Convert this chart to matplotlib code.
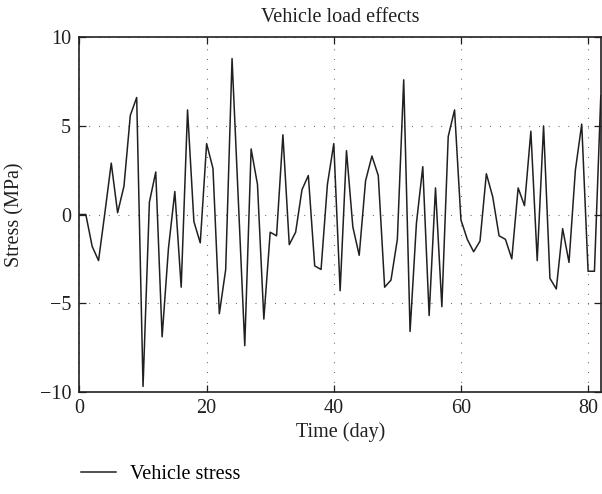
import matplotlib

matplotlib.use("Agg")
import matplotlib.pyplot as plt

# stress readings (MPa) per day
days = list(range(0, 83))
stress = [
    0.0, 0.0, -1.8, -2.6, 0.1, 2.9, 0.1, 1.6, 5.6, 6.6,
    -9.7, 0.7, 2.4, -6.9, -1.9, 1.3, -4.1, 5.9, -0.4, -1.6,
    4.0, 2.6, -5.6, -3.1, 8.8, 0.7, -7.4, 3.7, 1.7, -5.9,
    -1.0, -1.2, 4.5, -1.7, -1.0, 1.4, 2.2, -2.9, -3.1, 1.7,
    4.0, -4.3, 3.6, -0.7, -2.3, 1.9, 3.3, 2.2, -4.1, -3.7,
    -1.4, 7.6, -6.6, -0.5, 2.7, -5.7, 1.5, -5.2, 4.4, 5.9,
    -0.3, -1.4, -2.1, -1.5, 2.3, 1.0, -1.2, -1.4, -2.5, 1.5,
    0.5, 4.7, -2.6, 5.0, -3.6, -4.2, -0.8, -2.7, 2.5, 5.1,
    -3.2, -3.2, 6.7,
]
xticks = [0, 20, 40, 60, 80]
yticks = [-10, -5, 0, 5, 10]

plt.rcParams["font.family"] = ["Liberation Serif", "DejaVu Serif"]

FS = 14.5
INK = "#231f20"

fig = plt.figure(figsize=(6.02, 4.94), dpi=100)
ax = fig.add_axes([0.132, 0.207, 0.866, 0.7175])

ax.plot(days, stress, color=INK, lw=1.1, label="Vehicle stress")

ax.set_xlim(0, 82)
ax.set_ylim(-10, 10)
ax.set_xticks(xticks)
ax.set_yticks(yticks)
ax.set_yticklabels([f"{v}".replace("-", "\u2212") for v in yticks])
ax.tick_params(direction="in", top=True, right=True, length=5, width=0.9,
               labelsize=FS, pad=5, colors=INK)
ax.tick_params(axis="y", pad=6)
ax.grid(True, color="#555555", linestyle=(0, (0.8, 8)), linewidth=0.8)
for s in ax.spines.values():
    s.set_linewidth(1.2)
    s.set_color(INK)

ax.set_title("Vehicle load effects", fontsize=FS, pad=11, color=INK)
ax.set_xlabel("Time (day)", fontsize=FS, labelpad=3, color=INK)
ax.set_ylabel("Stress (MPa)", fontsize=FS, labelpad=11, color=INK)

ax.legend(loc="center left", bbox_to_anchor=(0.105, 0.04),
          bbox_transform=fig.transFigure, frameon=False, fontsize=FS,
          handlelength=1.7, handletextpad=0.7)

fig.savefig("out.png", dpi=100, facecolor="white")
